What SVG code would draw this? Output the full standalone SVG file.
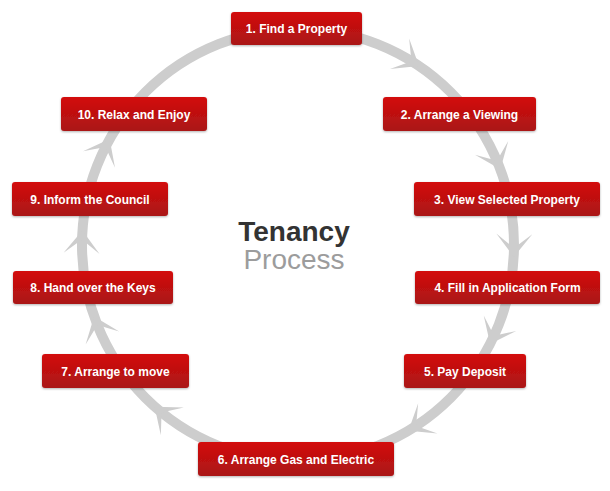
<svg xmlns="http://www.w3.org/2000/svg" xmlns:xlink="http://www.w3.org/1999/xlink" width="610" height="491" viewBox="0 0 610 491">
<style>
.box{fill:url(#red);filter:url(#sh)}
.lbl{font-family:"Liberation Sans",Arial,sans-serif;font-weight:bold;font-size:12px;fill:#fff;text-anchor:middle}
.ring{fill:none;stroke:#cdcdcd;stroke-width:10}
.ah{fill:#cdcdcd}
</style>
<defs>
<linearGradient id="red" x1="0" y1="0" x2="0" y2="1">
<stop offset="0" stop-color="#d30d0d"/>
<stop offset="1" stop-color="#aa1515"/>
</linearGradient>
<filter id="sh" x="-10%" y="-20%" width="120%" height="160%">
<feDropShadow dx="0" dy="1" stdDeviation="1" flood-color="#000" flood-opacity="0.3"/>
</filter>
<path id="arr" class="ah" d="M514,252 L532,229 L514,243 L496,229 Z"/>
</defs>
<rect width="610" height="491" fill="#fff"/>
<g id="connectors">
<circle class="ring" cx="298" cy="245" r="216"/>
<use xlink:href="#arr" transform="rotate(-57.8 298 245)"/>
<use xlink:href="#arr" transform="rotate(-22.4 298 245)"/>
<use xlink:href="#arr" transform="rotate(1.3 298 245)"/>
<use xlink:href="#arr" transform="rotate(25.4 298 245)"/>
<use xlink:href="#arr" transform="rotate(57.4 298 245)"/>
<use xlink:href="#arr" transform="rotate(129.7 298 245)"/>
<use xlink:href="#arr" transform="rotate(158.8 298 245)"/>
<use xlink:href="#arr" transform="rotate(182 298 245)"/>
<use xlink:href="#arr" transform="rotate(207.5 298 245)"/>
</g>
<g id="title" font-family="'Liberation Sans',Arial,sans-serif" font-size="28" text-anchor="middle">
<text x="294" y="241" font-weight="bold" fill="#333">Tenancy</text>
<text x="294" y="269" fill="#9c9c9c">Process</text>
</g>
<g id="n1"><rect class="box" x="231" y="12" width="131" height="33" rx="3"/><text class="lbl" x="296.5" y="33">1. Find a Property</text></g>
<g id="n2"><rect class="box" x="383" y="97" width="153" height="34" rx="3"/><text class="lbl" x="459.5" y="118.5">2. Arrange a Viewing</text></g>
<g id="n3"><rect class="box" x="414" y="182" width="186" height="34" rx="3"/><text class="lbl" x="507" y="203.5">3. View Selected Property</text></g>
<g id="n4"><rect class="box" x="415" y="271" width="185" height="33" rx="3"/><text class="lbl" x="507.5" y="292">4. Fill in Application Form</text></g>
<g id="n5"><rect class="box" x="404" y="354" width="122" height="34" rx="3"/><text class="lbl" x="465" y="375.5">5. Pay Deposit</text></g>
<g id="n6"><rect class="box" x="198" y="442" width="196" height="34" rx="3"/><text class="lbl" x="296" y="463.5">6. Arrange Gas and Electric</text></g>
<g id="n7"><rect class="box" x="42" y="354" width="147" height="34" rx="3"/><text class="lbl" x="115.5" y="375.5">7. Arrange to move</text></g>
<g id="n8"><rect class="box" x="13" y="271" width="160" height="33" rx="3"/><text class="lbl" x="93" y="292">8. Hand over the Keys</text></g>
<g id="n9"><rect class="box" x="12" y="182" width="156" height="34" rx="3"/><text class="lbl" x="90" y="203.5">9. Inform the Council</text></g>
<g id="n10"><rect class="box" x="61" y="97" width="146" height="34" rx="3"/><text class="lbl" x="134" y="118.5">10. Relax and Enjoy</text></g>
</svg>
